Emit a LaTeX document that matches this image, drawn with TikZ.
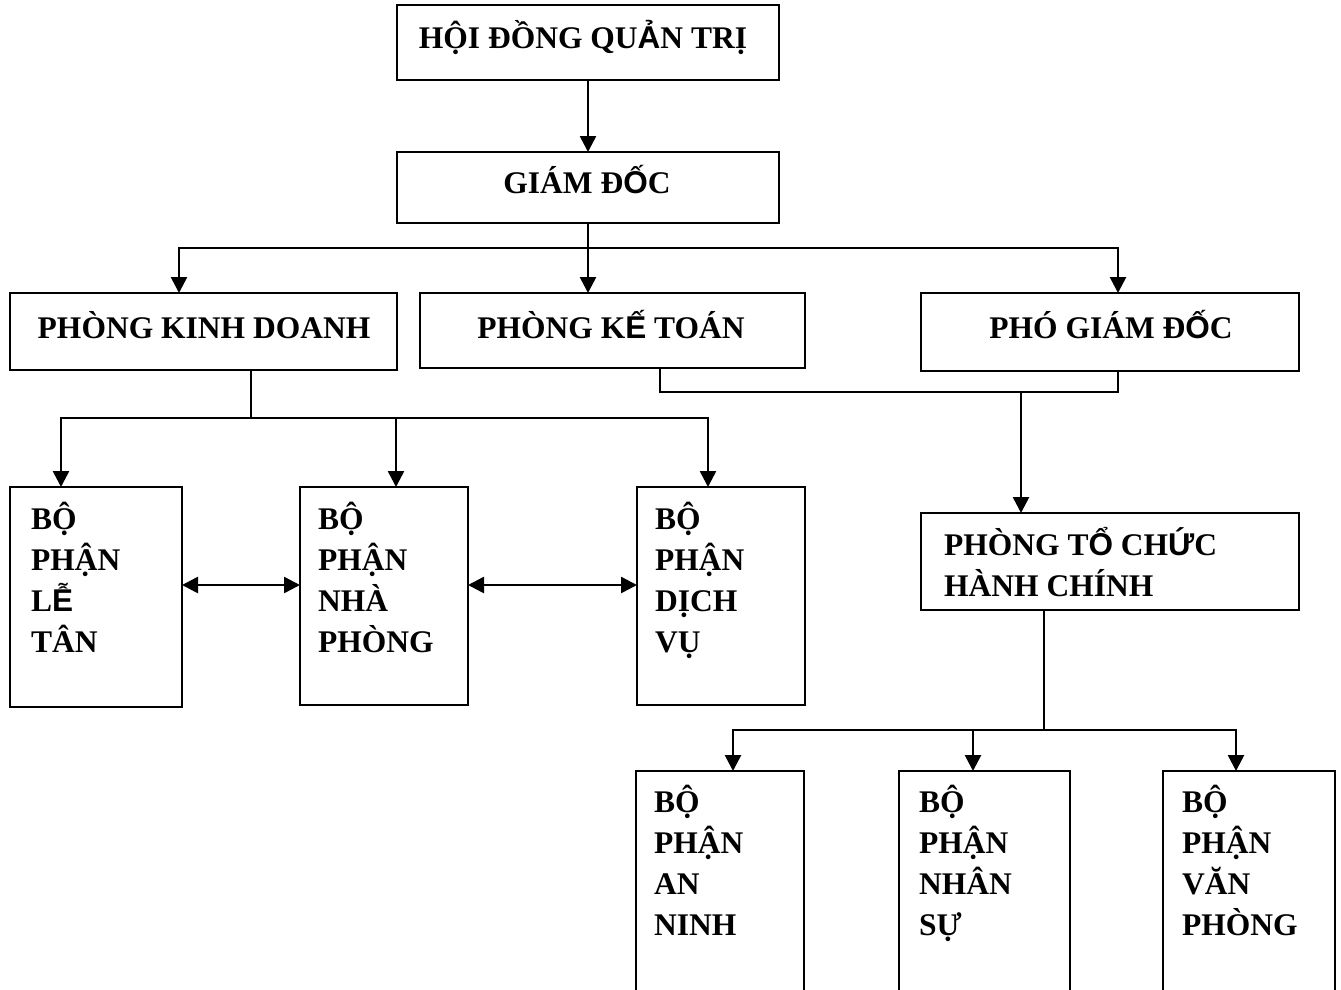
\documentclass[tikz,border=0pt]{standalone}
\usepackage{fontspec}
\setmainfont{Liberation Serif}
\newfontfamily\sansvi{Liberation Sans}
\newcommand\sv[1]{{\sansvi\bfseries #1}}
\usetikzlibrary{arrows.meta}
\begin{document}
\begin{tikzpicture}[x=1pt,y=-1pt,
  box/.style={draw,line width=2.8pt,inner sep=0pt,outer sep=0pt,anchor=north west},
  txt/.style={inner sep=0pt,font=\fontsize{31.5}{41}\selectfont\bfseries},
  col/.style={inner sep=0pt,anchor=north west,align=left,font=\fontsize{31.5}{41}\selectfont\bfseries},
  ln/.style={line width=2.6pt},
  arr/.style={line width=2.6pt,-{Triangle[width=16pt,length=16pt]}},
  darr/.style={line width=2.6pt,{Triangle[width=16pt,length=16pt]}-{Triangle[width=16pt,length=16pt]}}]
\useasboundingbox (0,0) rectangle (1341,989);
\clip (0,0) rectangle (1341,989);
% boxes
\node[box,minimum width=382pt,minimum height=75pt] (hdqt) at (397,5) {};
\node[box,minimum width=382pt,minimum height=71pt] (gd) at (397,152) {};
\node[box,minimum width=387pt,minimum height=77pt] (pkd) at (10,293) {};
\node[box,minimum width=385pt,minimum height=75pt] (pkt) at (420,293) {};
\node[box,minimum width=378pt,minimum height=78pt] (pgd) at (921,293) {};
\node[box,minimum width=172pt,minimum height=220pt] (lt) at (10,487) {};
\node[box,minimum width=168pt,minimum height=218pt] (np) at (300,487) {};
\node[box,minimum width=168pt,minimum height=218pt] (dv) at (637,487) {};
\node[box,minimum width=378pt,minimum height=97pt] (tc) at (921,513) {};
\node[box,minimum width=168pt,minimum height=250pt] (an) at (636,771) {};
\node[box,minimum width=171pt,minimum height=250pt] (ns) at (899,771) {};
\node[box,minimum width=172pt,minimum height=250pt] (vp) at (1163,771) {};
% texts
\node[txt,anchor=base] (thdqt) at (583,48) {HỘI ĐỒNG QU\sv{Ả}N TRỊ};
\node[txt,anchor=base] (tgd) at (587,193) {GIÁM Đ\sv{Ố}C};
\node[txt,anchor=base] (tpkd) at (204,338) {PHÒNG KINH DOANH};
\node[txt,anchor=base] (tpkt) at (611,338) {PHÒNG K\sv{Ế} TOÁN};
\node[txt,anchor=base] (tpgd) at (1111,338) {PHÓ GIÁM Đ\sv{Ố}C};
\node[col] (tlt) at (31,502) {BỘ\\PHẬN\\L\sv{Ễ}\\TÂN};
\node[col] (tnp) at (318,502) {BỘ\\PHẬN\\NHÀ\\PHÒNG};
\node[col] (tdv) at (655,502) {BỘ\\PHẬN\\DỊCH\\VỤ};
\node[col] (ttc) at (944,527) {PHÒNG T\sv{Ổ} CH\sv{Ứ}C\\HÀNH CHÍNH};
\node[col] (tan) at (654,785) {BỘ\\PHẬN\\AN\\NINH};
\node[col] (tns) at (919,785) {BỘ\\PHẬN\\NHÂN\\SỰ};
\node[col] (tvp) at (1182,785) {BỘ\\PHẬN\\VĂN\\PHÒNG};
% coordinates
\coordinate (j1) at (588,248);
\coordinate (pkdin) at (179,293);
\coordinate (pktin) at (588,293);
\coordinate (pgdin) at (1118,293);
\coordinate (pkdout) at (251,370);
\coordinate (j2) at (251,418);
\coordinate (ltin) at (61,487);
\coordinate (npin) at (396,487);
\coordinate (dvin) at (708,487);
\coordinate (pktout) at (660,368);
\coordinate (pgdout) at (1118,371);
\coordinate (j3) at (1021,392);
\coordinate (tcin) at (1021,513);
\coordinate (ltr) at (182,585);
\coordinate (npl) at (300,585);
\coordinate (npr) at (468,585);
\coordinate (dvl) at (637,585);
\coordinate (tcout) at (1044,610);
\coordinate (j4) at (1044,730);
\coordinate (anin) at (733,771);
\coordinate (nsin) at (973,771);
\coordinate (vpin) at (1236,771);
% connectors
\draw[arr] (hdqt.south) -- (gd.north);
\draw[ln] (gd.south) -- (j1);
\draw[arr] (j1) -| (pkdin);
\draw[arr] (j1) -- (pktin);
\draw[arr] (j1) -| (pgdin);
\draw[ln] (pkdout) -- (j2);
\draw[arr] (j2) -| (ltin);
\draw[arr] (j2) -| (npin);
\draw[arr] (j2) -| (dvin);
\draw[ln] (pktout) |- (j3) -| (pgdout);
\draw[arr] (j3) -- (tcin);
\draw[darr] (ltr) -- (npl);
\draw[darr] (npr) -- (dvl);
\draw[ln] (tcout) -- (j4);
\draw[arr] (j4) -| (anin);
\draw[arr] (j4) -| (nsin);
\draw[arr] (j4) -| (vpin);
\end{tikzpicture}
\end{document}
